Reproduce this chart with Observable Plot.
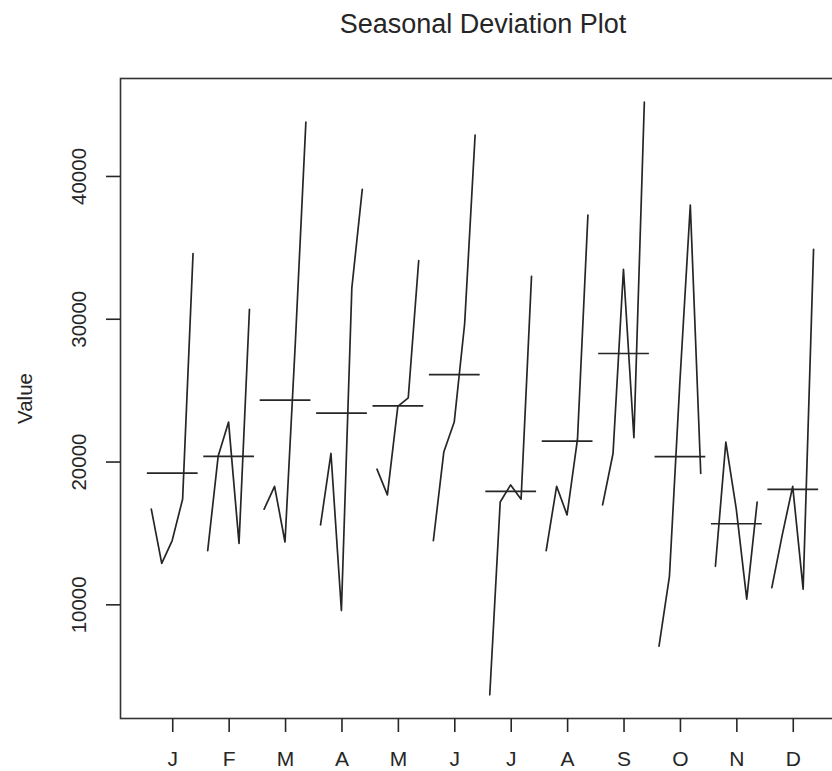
<!DOCTYPE html>
<html><head><meta charset="utf-8">
<script src="https://cdn.jsdelivr.net/npm/d3@7"></script>
<script src="https://cdn.jsdelivr.net/npm/@observablehq/plot@0.6"></script>
<style>
html,body{margin:0;padding:0;background:#fff;overflow:hidden;}
svg{max-width:none !important;}
</style></head><body><div id="chart"></div>
<script>
const monthLabels = ["J","F","M","A","M","J","J","A","S","O","N","D"];
const year1 = [16700, 13800, 16700, 15600, 19500, 14500,  3700, 13800, 17000,  7100, 12700, 11200];
const year2 = [12900, 20400, 18300, 20600, 17700, 20700, 17200, 18300, 20600, 12000, 21400, 14900];
const year3 = [14500, 22800, 14400,  9600, 23900, 22800, 18400, 16300, 33500, 25600, 16700, 18300];
const year4 = [17400, 14300, 28500, 32200, 24500, 29700, 17400, 21600, 21700, 38000, 10400, 11100];
const year5 = [34600, 30700, 43800, 39100, 34100, 42900, 33000, 37300, 45200, 19200, 17200, 34900];
const yTicks = [10000, 20000, 30000, 40000];
const title = "Seasonal Deviation Plot";
const yLabel = "Value";

const years = [year1, year2, year3, year4, year5];
const nY = years.length;
const rows = [];
monthLabels.forEach((m, i) => years.forEach((yr, k) => rows.push({
  month: i, x: i + 1 - 0.38 + 0.74 * k / (nY - 1), value: yr[i]
})));
const means = monthLabels.map((m, i) => ({i: i + 1, mean: d3.mean(years, yr => yr[i])}));
const vmin = d3.min(rows, d => d.value), vmax = d3.max(rows, d => d.value);
const ypad = 0.04 * (vmax - vmin);
const xlim = [0.55, monthLabels.length + 0.45];
const xpad = 0.04 * (xlim[1] - xlim[0]);
const ink = "#262626";

const chart = Plot.plot({
  width: 845, height: 771,
  marginLeft: 120, marginRight: 0, marginTop: 78, marginBottom: 53,
  style: {fontFamily: "'Liberation Sans', Arial, Helvetica, sans-serif", color: ink, background: "#fff", maxWidth: "none"},
  x: {domain: [xlim[0] - xpad, xlim[1] + xpad]},
  y: {domain: [vmin - ypad, vmax + ypad]},
  marks: [
    Plot.frame({stroke: "#333", strokeWidth: 1.6}),
    Plot.axisX({ticks: d3.range(1, monthLabels.length + 1), tickFormat: i => monthLabels[i - 1],
      tickSize: 14, tickPadding: 19, fontSize: 21, label: null, strokeWidth: 1.6}),
    Plot.axisY({ticks: yTicks, tickSize: 14, tickFormat: () => "", label: null, strokeWidth: 1.6}),
    Plot.text(yTicks, {y: d => d, text: d => String(d), frameAnchor: "left", textAnchor: "middle", lineAnchor: "middle",
      dx: -41, rotate: -90, fontSize: 20.5, fill: ink}),
    Plot.text([yLabel], {frameAnchor: "left", textAnchor: "middle", lineAnchor: "middle",
      dx: -95, rotate: -90, fontSize: 20.5, fill: ink}),
    Plot.text([title], {frameAnchor: "top", textAnchor: "middle", lineAnchor: "middle", dy: -54, fontSize: 27, fill: ink}),
    Plot.line(rows, {x: "x", y: "value", z: "month", stroke: ink, strokeWidth: 1.7}),
    Plot.ruleY(means, {y: "mean", x1: d => d.i - 0.45, x2: d => d.i + 0.45, stroke: ink, strokeWidth: 1.7})
  ]
});
document.getElementById("chart").appendChild(chart);
</script></body></html>
